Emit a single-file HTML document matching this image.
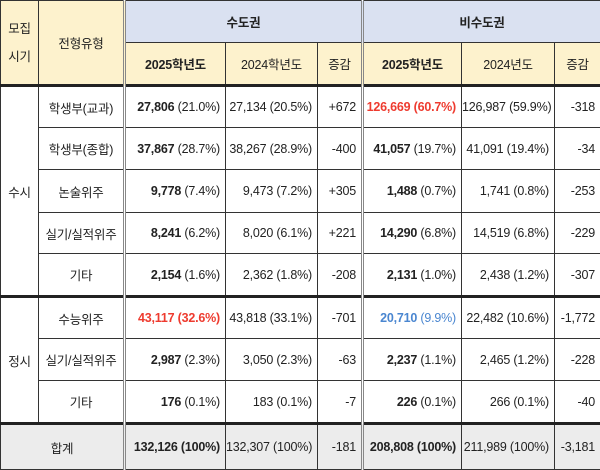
<!DOCTYPE html>
<html><head><meta charset="utf-8"><style>
*{margin:0;padding:0;box-sizing:border-box}
body{width:600px;height:469px;background:#fff;font-family:"Liberation Sans","Noto Sans CJK KR",sans-serif;font-size:12.5px;color:#222;overflow:hidden}
table{border-collapse:collapse;table-layout:fixed;width:600px}
td{border:1px solid #333;text-align:center;vertical-align:middle;white-space:nowrap;padding:0;letter-spacing:-0.2px}
.y{background:#fdf2cd}
.b{background:#dae1f1;font-weight:bold}
.g{background:#ececec}
.n{text-align:right;padding-right:5px}
.tk{border-top:3px solid #222}
.dl{border-left:3px double #888}
.red{color:#ee3b2f;font-weight:bold}
.blu{color:#4a86d0}
b{font-weight:bold}
</style></head><body>
<table>
<colgroup><col style="width:38px"><col style="width:86px"><col style="width:101px"><col style="width:92px"><col style="width:45px"><col style="width:99px"><col style="width:93px"><col style="width:46px"></colgroup>
<tr style="height:42px"><td class="y" rowspan="2" style="line-height:28px">모집<br>시기</td><td class="y" rowspan="2">전형유형</td><td class="b dl" colspan="3">수도권</td><td class="b dl" colspan="3">비수도권</td></tr>
<tr style="height:43px"><td class="y dl"><b>2025학년도</b></td><td class="y">2024학년도</td><td class="y">증감</td><td class="y dl"><b>2025학년도</b></td><td class="y">2024년도</td><td class="y">증감</td></tr>
<tr style="height:42px"><td class="tk" rowspan="5">수시</td><td class="tk">학생부(교과)</td><td class="n tk dl"><b>27,806</b> (21.0%)</td><td class="n tk">27,134 (20.5%)</td><td class="n tk">+672</td><td class="n tk dl red">126,669 (60.7%)</td><td class="n tk">126,987 (59.9%)</td><td class="n tk">-318</td></tr>
<tr style="height:42px"><td>학생부(종합)</td><td class="n dl"><b>37,867</b> (28.7%)</td><td class="n">38,267 (28.9%)</td><td class="n">-400</td><td class="n dl"><b>41,057</b> (19.7%)</td><td class="n">41,091 (19.4%)</td><td class="n">-34</td></tr>
<tr style="height:43px"><td>논술위주</td><td class="n dl"><b>9,778</b> (7.4%)</td><td class="n">9,473 (7.2%)</td><td class="n">+305</td><td class="n dl"><b>1,488</b> (0.7%)</td><td class="n">1,741 (0.8%)</td><td class="n">-253</td></tr>
<tr style="height:41px"><td>실기/실적위주</td><td class="n dl"><b>8,241</b> (6.2%)</td><td class="n">8,020 (6.1%)</td><td class="n">+221</td><td class="n dl"><b>14,290</b> (6.8%)</td><td class="n">14,519 (6.8%)</td><td class="n">-229</td></tr>
<tr style="height:43px"><td>기타</td><td class="n dl"><b>2,154</b> (1.6%)</td><td class="n">2,362 (1.8%)</td><td class="n">-208</td><td class="n dl"><b>2,131</b> (1.0%)</td><td class="n">2,438 (1.2%)</td><td class="n">-307</td></tr>
<tr style="height:42px"><td class="tk" rowspan="3">정시</td><td class="tk">수능위주</td><td class="n tk dl red">43,117 (32.6%)</td><td class="n tk">43,818 (33.1%)</td><td class="n tk">-701</td><td class="n tk dl blu"><b>20,710</b> (9.9%)</td><td class="n tk">22,482 (10.6%)</td><td class="n tk">-1,772</td></tr>
<tr style="height:42px"><td>실기/실적위주</td><td class="n dl"><b>2,987</b> (2.3%)</td><td class="n">3,050 (2.3%)</td><td class="n">-63</td><td class="n dl"><b>2,237</b> (1.1%)</td><td class="n">2,465 (1.2%)</td><td class="n">-228</td></tr>
<tr style="height:43px"><td>기타</td><td class="n dl"><b>176</b> (0.1%)</td><td class="n">183 (0.1%)</td><td class="n">-7</td><td class="n dl"><b>226</b> (0.1%)</td><td class="n">266 (0.1%)</td><td class="n">-40</td></tr>
<tr style="height:46px"><td class="g tk" colspan="2">합계</td><td class="g n tk dl"><b>132,126 (100%)</b></td><td class="g n tk">132,307 (100%)</td><td class="g n tk">-181</td><td class="g n tk dl"><b>208,808 (100%)</b></td><td class="g n tk">211,989 (100%)</td><td class="g n tk">-3,181</td></tr>
</table>
</body></html>
